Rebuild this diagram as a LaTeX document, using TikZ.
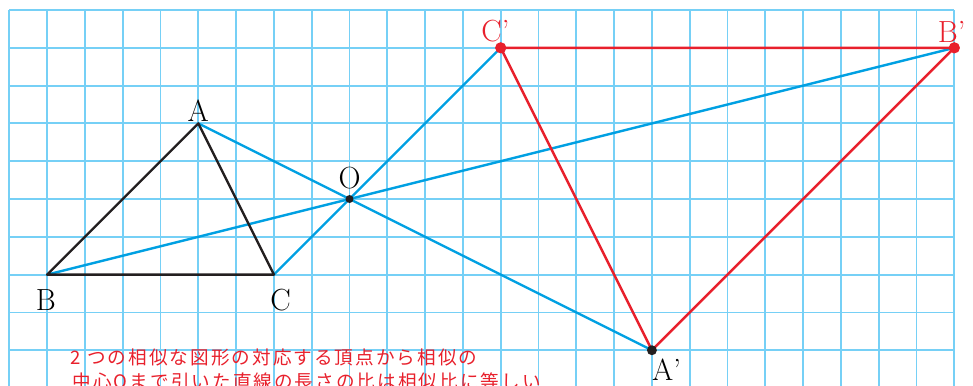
\documentclass[tikz,border=0pt]{standalone}
\usepackage{fontspec}
\newfontfamily\jpfont[LetterSpace=11]{Noto Sans CJK JP}
\usepackage{xcolor}
\usetikzlibrary{positioning}
\definecolor{gridblue}{RGB}{118,208,246}
\definecolor{rayblue}{RGB}{0,160,226}
\definecolor{figred}{RGB}{232,32,44}
\definecolor{figblack}{RGB}{35,31,32}

\begin{document}
\begin{tikzpicture}[
  pt/.style={font=\fontsize{23}{25}\selectfont,inner sep=0pt},
  dotk/.style={circle,fill=figblack,inner sep=0pt,minimum size=7.5pt},
  dotr/.style={circle,fill=figred,inner sep=0pt,minimum size=8.5pt},
  note/.style={anchor=base west,inner sep=0pt,text=figred,font=\jpfont\fontsize{14}{17}\selectfont}]
\clip (-0.246,0.265) rectangle (25.494,-9.92);
\draw[gridblue,line width=1.4pt] (0,-10) grid (25,0);

\coordinate (A) at (5,-3);
\coordinate (B) at (1,-7);
\coordinate (C) at (7,-7);
\coordinate (O) at (9,-5);
\coordinate (Ap) at (17,-9);
\coordinate (Bp) at (25,-1);
\coordinate (Cp) at (13,-1);

% lines through the centre O
\draw[rayblue,line width=1.8pt] (A) -- (Ap);
\draw[rayblue,line width=1.8pt] (B) -- (Bp);
\draw[rayblue,line width=1.8pt] (C) -- (Cp);

\draw[figblack,line width=1.8pt,line join=round] (A) -- (B) -- (C) -- cycle;
\draw[figred,line width=1.8pt,line join=round] (Ap) -- (Bp) -- (Cp) -- cycle;

\node[dotk,minimum size=6pt] (dO) at (O) {};
\node[dotk] (dAp) at (Ap) {};
\node[dotr] (dBp) at (Bp) {};
\node[dotr] (dCp) at (Cp) {};

\node[pt,above=1pt of A] (lA) {A};
\node[pt,below=11pt of B,xshift=-1pt] (lB) {B};
\node[pt,below=11pt of C,xshift=5pt] (lC) {C};
\node[pt,above=7pt of O] (lO) {O};
\node[pt,below right=6pt and 0pt of Ap] (lAp) {A'};
\node[pt,text=figred,above=4pt of Cp,xshift=-4pt] (lCp) {C'};
\node[pt,text=figred,above=4pt of Bp,xshift=-2pt] (lBp) {B'};

\node[note] (jp1) at (1.606,-9.39) {2\hspace{5pt}つの相似な図形の対応する頂点から相似の};
\node[note] (jp2) at (1.67,-10.01) {中心Oまで引いた直線の長さの比は相似比に等しい};
\end{tikzpicture}
\end{document}
